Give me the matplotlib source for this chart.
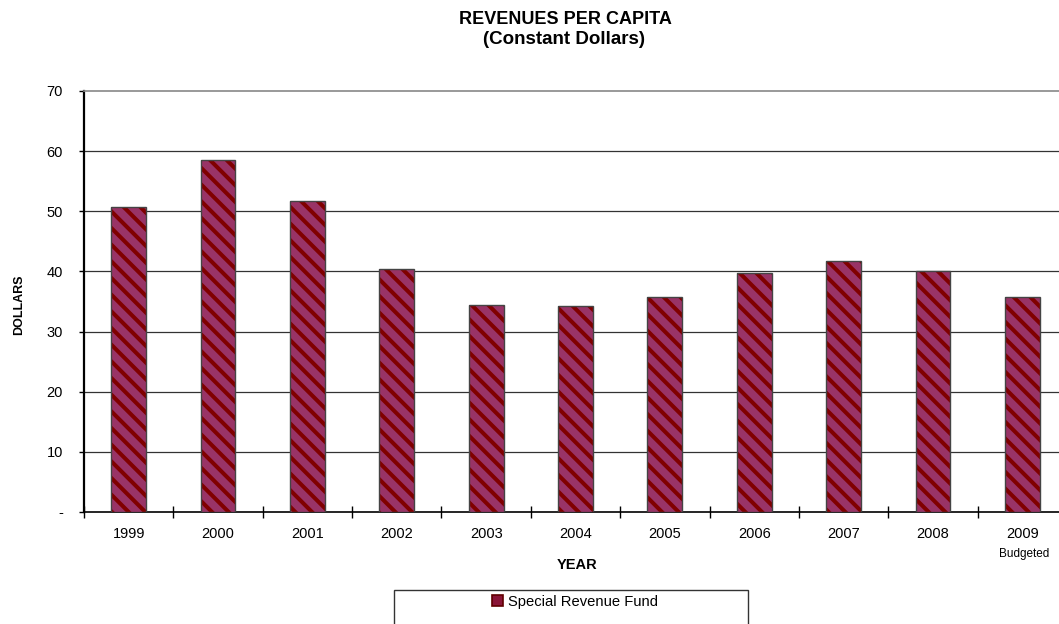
import numpy as np
import matplotlib
matplotlib.use('Agg')
import matplotlib.pyplot as plt
from matplotlib.patches import Patch, Rectangle

# Revenues per capita, constant dollars
years = ['1999', '2000', '2001', '2002', '2003', '2004', '2005', '2006', '2007', '2008', '2009']
revenues = [50.7, 58.6, 51.7, 40.4, 34.5, 34.3, 35.7, 39.7, 41.7, 40.1, 35.7]
yticks = [0, 10, 20, 30, 40, 50, 60, 70]
ytick_labels = ['-', '10', '20', '30', '40', '50', '60', '70']

plt.rcParams['font.family'] = ['Liberation Sans', 'DejaVu Sans']
plt.rcParams['hatch.linewidth'] = 2.9

W, H = 1059, 624
fig = plt.figure(figsize=(W / 100, H / 100), dpi=100)
ax = fig.add_axes([84 / W, 1 - 512 / H, 983 / W, 421 / H])

x = np.arange(len(years))
# striped fill first, then a thin grey outline on top
ax.bar(x, revenues, width=0.39, color='#993366', edgecolor='#800000',
       hatch='\\\\', linewidth=0, zorder=3)
ax.bar(x, revenues, width=0.39, fill=False, edgecolor='#444444',
       linewidth=1.0, zorder=4)

ax.set_xlim(-0.5, len(years) - 0.5)
ax.set_ylim(0, 70)
ax.set_yticks(yticks)
ax.set_yticklabels(ytick_labels, fontsize=10.5)
for v in yticks[1:-1]:
    ax.axhline(v, color='#333333', linewidth=0.9, zorder=1)

# category boundaries get the tick marks, labels sit in between
ax.set_xticks(np.arange(-0.5, len(years), 1.0))
ax.set_xticklabels([])
ax.set_xticks(x, minor=True)
ax.set_xticklabels(years, minor=True, fontsize=10.5)
ax.tick_params(axis='x', which='major', direction='inout', length=9, width=1)
ax.tick_params(axis='x', which='minor', length=0, pad=11)
ax.tick_params(axis='y', direction='out', length=3.6, width=1, pad=11.5)

ax.spines['right'].set_visible(False)
ax.spines['top'].set_color('#888888')
ax.spines['top'].set_linewidth(1.2)
ax.spines['left'].set_linewidth(1.6)
ax.spines['bottom'].set_linewidth(1.2)

fig.text(565 / W, 1 - 19 / H, 'REVENUES PER CAPITA', ha='center', va='center',
         fontsize=13, fontweight='bold')
fig.text(564 / W, 1 - 40 / H, '(Constant Dollars)', ha='center', va='center',
         fontsize=13.5, fontweight='bold')
fig.text(19 / W, 1 - 305 / H, 'DOLLARS', ha='center', va='center', rotation=90,
         fontsize=9, fontweight='bold')
fig.text(577 / W, 1 - 565 / H, 'YEAR', ha='center', va='center',
         fontsize=10.5, fontweight='bold')
fig.text(1024 / W, 1 - 554 / H, 'Budgeted', ha='center', va='center',
         fontsize=8.5)

# legend box, partly below the bottom edge
fig.patches.append(Rectangle((394 / W, 1 - 640 / H), 354 / W, 50 / H,
                             transform=fig.transFigure, fill=False,
                             edgecolor='#333333', linewidth=1.0))
handle = Patch(facecolor='#8a1538', edgecolor='#600000', linewidth=1.2)
fig.legend([handle], ['Special Revenue Fund'], loc='center',
           bbox_to_anchor=(575 / W, 1 - 602 / H), fontsize=10.6,
           frameon=False, handlelength=0.75, handleheight=0.75,
           handletextpad=0.3)

fig.savefig('out.png', dpi=100)
